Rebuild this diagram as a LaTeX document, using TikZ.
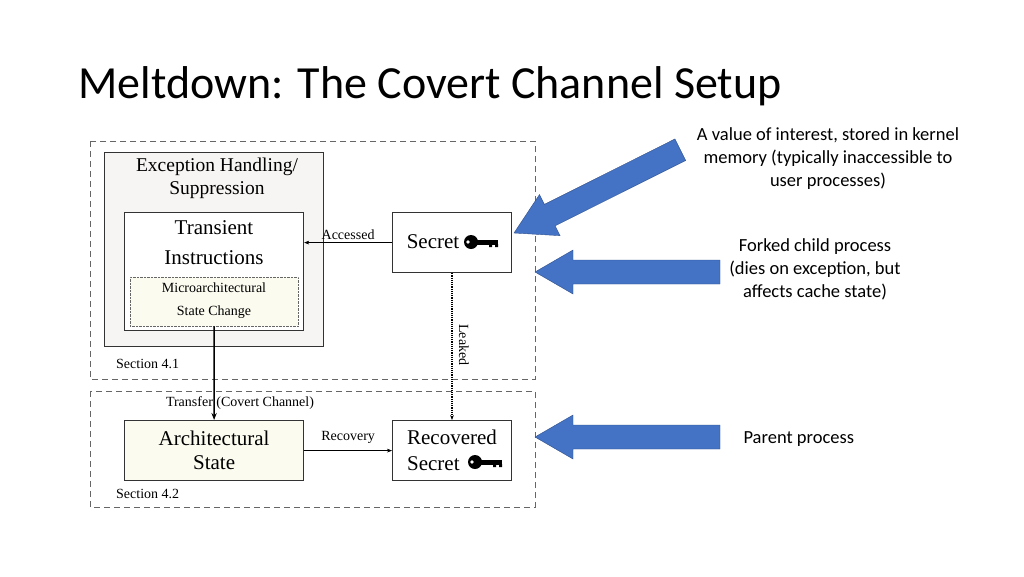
\documentclass[tikz,border=0pt]{standalone}
\usepackage{fontspec}
\setmainfont{Liberation Serif}
\newfontfamily\calibri{Carlito}
\usetikzlibrary{arrows.meta}
\definecolor{arrowblue}{HTML}{4472C4}
\definecolor{arrowedge}{HTML}{2F528F}
\definecolor{paleyellow}{HTML}{FBFBF0}
\definecolor{palegray}{HTML}{F7F5F3}
\tikzset{
  box/.style={draw=black!80, line width=1.2pt, inner sep=0pt},
  lbl/.style={font=\fontsize{14}{16}\selectfont, inner sep=1pt},
  note/.style={font=\calibri\fontsize{18.5}{23}\selectfont, align=center},
  region/.style={draw=gray!80!black, line width=1pt, dash pattern=on 6pt off 4pt},
  bigarrow/.style={fill=arrowblue, draw=arrowedge, thin},
  keyicon/.pic={
    \fill (0,0) circle (7);
    \fill (0,-2.5) rectangle (27,2.5);
    \fill (18,2) rectangle (21,5) (24,2) rectangle (27,5);
    \fill[white] (-3,0) circle (1.8);
  }
}
\begin{document}
\begin{tikzpicture}[x=1pt,y=-1pt]
\useasboundingbox[fill=white] (0,0) rectangle (1024,576);
\node[anchor=west, font=\calibri\fontsize{46}{54}\selectfont] (title) at (75,86) {Meltdown: The Covert Channel Setup};
% regions
\draw[region] (90,141) rectangle (535,379);
\draw[region] (90,391) rectangle (535,507);
\node[lbl, anchor=west] (sec1) at (115,364) {Section 4.1};
\node[lbl, anchor=west] (sec2) at (115,494) {Section 4.2};
% boxes
\node[box, fill=palegray, minimum width=219, minimum height=194, anchor=north west] (exc) at (104,152) {};
\node[font=\fontsize{19.5}{23}\selectfont, align=center] (exctext) at (217,178) {Exception Handling/\\Suppression};
\node[box, fill=white, minimum width=179, minimum height=118, anchor=north west] (trans) at (124,212) {};
\node[font=\fontsize{21}{30}\selectfont, align=center] (transtext) at (214,243) {Transient\\Instructions};
\node[draw=black!60, densely dotted, fill=paleyellow, minimum width=168, minimum height=49, anchor=north west, inner sep=0pt] (micro) at (130,277) {};
\node[font=\fontsize{14}{23}\selectfont, align=center] (microtext) at (214,301) {Microarchitectural\\State Change};
\node[box, minimum width=119, minimum height=60, anchor=north west] (secret) at (392,212) {};
\node[font=\fontsize{21}{25}\selectfont] (secrettext) at (433,242) {Secret};
\pic at (471,242) {keyicon};
\node[box, fill=paleyellow, minimum width=179, minimum height=60, anchor=north west, font=\fontsize{21}{24}\selectfont, align=center] (arch) at (124,420) {Architectural\\State};
\node[box, minimum width=119, minimum height=60, anchor=north west] (rec) at (392,420) {};
\node[font=\fontsize{21}{26}\selectfont, align=left] (rectext) at (452,450) {Recovered\\Secret\hspace{50pt}};
\pic at (475,462) {keyicon};
% connectors
\draw[-{Stealth[length=5pt]}] (secret.west) -- node[lbl, above=2pt] {Accessed} (trans.east |- secret.west);
\draw[line width=1.5pt, -{Stealth[length=7pt]}] (micro.south) -- (arch.north);
\node[lbl] (transfer) at (240,403) {Transfer (Covert Channel)};
\draw[-{Stealth[length=5pt]}] (arch.east) -- node[lbl, above=6pt] {Recovery} (rec.west);
\draw[line width=1.2pt, densely dotted, -{Stealth[length=5pt]}] (secret.south -| 452,0) -- (rec.north -| 452,0);
\node[lbl, rotate=-90] (leaked) at (464,345) {Leaked};
% notes
\node[note] (n1) at (828,159) {A value of interest, stored in kernel\\memory (typically inaccessible to\\user processes)};
\node[note] (n2) at (815,269) {Forked child process\\(dies on exception, but\\affects cache state)};
\node[note, anchor=west] (n3) at (740,439) {Parent process};
% block arrows
\begin{scope}[shift={(514,233)}, rotate=26.6]
\draw[bigarrow] (0,0) -- (40,-23) -- (40,-12) -- (186,-12) -- (186,12) -- (40,12) -- (40,23) -- cycle;
\end{scope}
\begin{scope}[shift={(535,272)}]
\draw[bigarrow] (0,0) -- (38,-22) -- (38,-12) -- (185,-12) -- (185,12) -- (38,12) -- (38,22) -- cycle;
\end{scope}
\begin{scope}[shift={(535,437)}]
\draw[bigarrow] (0,0) -- (38,-22) -- (38,-12) -- (185,-12) -- (185,12) -- (38,12) -- (38,22) -- cycle;
\end{scope}
\end{tikzpicture}
\end{document}
